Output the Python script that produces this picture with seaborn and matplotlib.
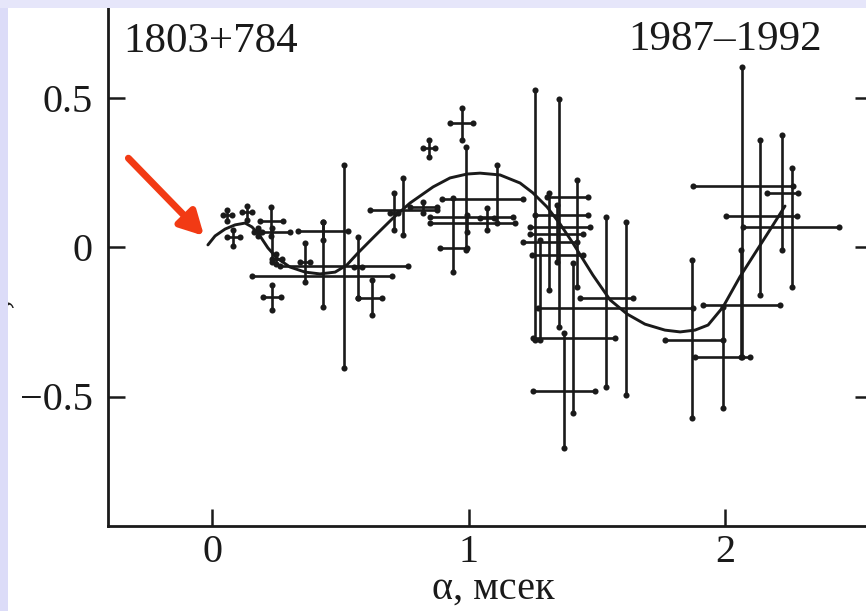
import matplotlib
matplotlib.use("Agg")
import matplotlib.pyplot as plt
from matplotlib.patches import Rectangle
import numpy as np
import pandas as pd
import seaborn as sns

# ---------------- data ----------------
pt_x    = [0.058, 0.082, 0.136, 0.230, 0.234, 0.234, 0.179, 0.250,
           0.433, 0.433, 0.515, 0.363, 0.624, 0.569, 0.745, 0.710, 0.823,
           0.975, 0.846, 0.990, 1.111, 0.940, 1.072, 0.994,
           1.259, 1.353, 1.314, 1.423, 1.345, 1.279, 1.372, 1.407, 1.536, 1.614,
           2.066, 2.136, 2.222, 2.261, 1.871, 1.992, 2.062]
pt_y    = [0.107, 0.033, 0.117, 0.087, 0.050, -0.167, 0.050, -0.040,
           0.054, -0.097, -0.064, -0.050, -0.171, -0.067, 0.124, 0.114, 0.134,
           0.415, 0.331, 0.161, 0.100, -0.003, 0.097, 0.080,
           0.067, 0.107, 0.017, 0.167, 0.043, -0.027, -0.482, -0.304, -0.171, -0.204,
           0.204, 0.104, 0.181, 0.067, -0.311, -0.368, -0.194]
pt_xmin = [0.043, 0.058, 0.117, 0.187, 0.187, 0.199, 0.164, 0.234,
           0.335, 0.156, 0.265, 0.343, 0.569, 0.553, 0.616, 0.694, 0.772,
           0.928, 0.823, 0.897, 0.850, 0.889, 1.045, 0.850,
           1.240, 1.259, 1.212, 1.306, 1.240, 1.248, 1.251, 1.251, 1.435, 1.271,
           1.875, 2.004, 2.164, 2.070, 1.766, 1.883, 1.914]
pt_xmax = [0.078, 0.109, 0.156, 0.277, 0.304, 0.269, 0.195, 0.273,
           0.530, 0.702, 0.764, 0.382, 0.663, 0.585, 0.877, 0.725, 0.877,
           1.018, 0.869, 1.212, 1.173, 0.994, 1.099, 1.181,
           1.474, 1.466, 1.423, 1.466, 1.446, 1.446, 1.493, 1.571, 1.641, 1.875,
           2.265, 2.281, 2.285, 2.444, 1.992, 2.097, 2.214]
pt_ymin = [0.087, 0.003, 0.090, 0.037, -0.050, -0.211, 0.037, -0.057,
           0.023, -0.201, -0.405, -0.117, -0.227, -0.171, 0.040, 0.057, 0.114,
           0.358, 0.301, -0.010, 0.080, -0.084, 0.057, 0.050,
           -0.311, -0.268, -0.144, -0.134, -0.050, -0.311, -0.672, -0.555, -0.468, -0.495,
           -0.368, -0.161, -0.010, -0.134, -0.572, -0.538, -0.368]
pt_ymax = [0.124, 0.057, 0.137, 0.134, 0.064, -0.127, 0.064, -0.023,
           0.084, 0.084, 0.274, 0.013, -0.110, 0.033, 0.231, 0.181, 0.151,
           0.465, 0.358, 0.334, 0.274, 0.164, 0.130, 0.107,
           0.525, 0.495, 0.181, 0.224, 0.140, 0.023, -0.288, -0.054, 0.100, 0.084,
           0.602, 0.358, 0.375, 0.264, -0.043, -0.201, -0.010]

curve_x = [-0.016, 0.012, 0.051, 0.090, 0.129, 0.156, 0.187, 0.218, 0.253, 0.304,
           0.363, 0.421, 0.480, 0.526, 0.569, 0.635, 0.706, 0.772, 0.862, 0.928,
           0.994, 1.045, 1.123, 1.201, 1.251, 1.306, 1.357, 1.407, 1.485, 1.552,
           1.618, 1.688, 1.766, 1.825, 1.883, 1.934, 1.992, 2.058, 2.125, 2.175, 2.234]
curve_y = [0.007, 0.037, 0.060, 0.074, 0.080, 0.067, 0.037, -0.003, -0.037, -0.067,
           -0.084, -0.090, -0.084, -0.060, -0.020, 0.037, 0.097, 0.147, 0.201, 0.231,
           0.244, 0.247, 0.241, 0.214, 0.181, 0.134, 0.077, 0.013, -0.094, -0.177,
           -0.224, -0.258, -0.278, -0.284, -0.278, -0.261, -0.201, -0.100, -0.010, 0.057, 0.137]

x_ticks = [0, 1, 2]
x_tick_labels = ["0", "1", "2"]
y_ticks = [-0.5, 0, 0.5]
y_tick_labels = ["\u22120.5", "0", "0.5"]
source_label = "1803+784"
years_label = "1987\u20131992"
x_label = "\u03b1, мсек"
y_label = "\u03b4, мсек"

# ---------------- style ----------------
sns.set_style("ticks")
plt.rcParams['font.family'] = ['Liberation Serif', 'DejaVu Serif']
ink = "#1a1a1a"
lav = "#dcdcf8"

W, H = 866, 611
fig = plt.figure(figsize=(W / 100, H / 100), dpi=100)
fig.patch.set_facecolor(lav)
fig.patches.append(Rectangle((8 / W, 0), 1 - 8 / W, 1 - 8 / H, transform=fig.transFigure,
                             facecolor="white", edgecolor="none", zorder=-5))

left_px, right_px, bottom_px, top_px = 108, 872, 526, 2
AW, AH = right_px - left_px, bottom_px - top_px
ax = fig.add_axes([left_px / W, 1 - bottom_px / H, AW / W, AH / H])
ax.set_facecolor("none")
ax.set_zorder(2)

df = pd.DataFrame({"x": pt_x, "y": pt_y, "xmin": pt_xmin, "xmax": pt_xmax,
                   "ymin": pt_ymin, "ymax": pt_ymax})
xerr = np.vstack([df.x - df.xmin, df.xmax - df.x])
yerr = np.vstack([df.y - df.ymin, df.ymax - df.y])

# vertical and horizontal bars with dotted ends
eb_v = ax.errorbar(df.x, df.y, yerr=yerr, fmt="none", ecolor=ink, elinewidth=1.9,
                   capsize=2, capthick=0)
eb_h = ax.errorbar(df.x, df.y, xerr=xerr, fmt="none", ecolor=ink, elinewidth=1.9,
                   capsize=2, capthick=0)
for eb in (eb_v, eb_h):
    for cl in eb[1]:
        cl.set_marker("o")
        cl.set_markersize(4.4)
        cl.set_markerfacecolor(ink)
        cl.set_markeredgecolor(ink)
        cl.set_markeredgewidth(0)

sns.lineplot(x=curve_x, y=curve_y, sort=False, color=ink, linewidth=2.1, ax=ax,
             estimator=None)

# axes formatting
ax.set_xlim((left_px - 212) / 256.5, (right_px - 212) / 256.5)
ax.set_ylim((247 - bottom_px) / 299, (247 - top_px) / 299)
ax.set_xticks(x_ticks)
ax.set_xticklabels(x_tick_labels)
ax.set_yticks(y_ticks)
ax.set_yticklabels(y_tick_labels)
ax.tick_params(axis="both", direction="in", length=12, width=1.8, color=ink,
               labelsize=29, labelcolor=ink, pad=11)
ax.tick_params(axis="y", right=True, labelright=False)
ax.tick_params(axis="x", pad=6)
for s in ("left", "bottom"):
    ax.spines[s].set_linewidth(2.0)
    ax.spines[s].set_color(ink)
ax.spines["top"].set_visible(False)
ax.spines["right"].set_visible(False)

ax.set_xlabel(x_label, fontsize=29, color=ink)
ax.xaxis.label.set_va("baseline")
ax.xaxis.set_label_coords((493 - left_px) / AW, -(599 - bottom_px) / AH,
                          transform=ax.transAxes)

ax.text((123 - left_px) / AW, 1 - (42 - top_px) / AH,
        source_label, transform=ax.transAxes, ha="left", va="center", fontsize=31, color=ink)
ax.text((822 - left_px) / AW, 1 - (40 - top_px) / AH,
        years_label, transform=ax.transAxes, ha="right", va="center", fontsize=31, color=ink)

# red arrow pointing at the start of the curve
ax.annotate("", xy=(curve_x[0] - 0.015, curve_y[0] + 0.03),
            xytext=(curve_x[0] - 0.31, curve_y[0] + 0.29),
            arrowprops=dict(arrowstyle="-|>,head_length=1.4,head_width=0.75",
                            color="#f23a14", lw=5.0, shrinkA=0, shrinkB=0))

# partially hidden y label at the left edge
fig.text(-18 / W, 1 - 270 / H, y_label, rotation=90, ha="left", va="center",
         fontsize=27, color=ink, zorder=1)
fig.patches.append(Rectangle((0, 0), 8 / W, 1, transform=fig.transFigure,
                             facecolor=lav, edgecolor="none", zorder=5))
fig.patches.append(Rectangle((0, 1 - 8 / H), 1, 8 / H, transform=fig.transFigure,
                             facecolor="#e6e6fa", edgecolor="none", zorder=5))

fig.savefig("out.png", dpi=100, facecolor=fig.get_facecolor())
